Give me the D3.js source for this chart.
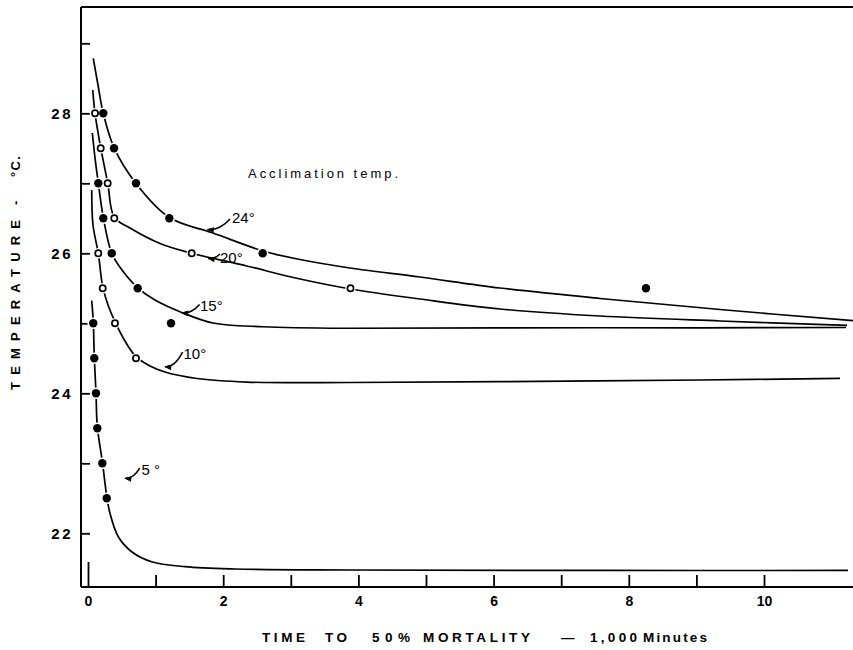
<!DOCTYPE html>
<html><head><meta charset="utf-8">
<script src="https://cdn.jsdelivr.net/npm/d3@7"></script>
<style>body{margin:0;background:#fff}svg{display:block}</style>
</head><body><svg id="c" width="853" height="650"></svg>
<script>
// ---------- data ----------
const xTicks = [0,1,2,3,4,5,6,7,8,9,10];
const xTickLabels = ["0","","2","","4","","6","","8","","10"];
const yTicks = [22,23,24,25,26,27,28,29];
const yTickLabels = ["22","","24","","26","","28",""];
const seriesLabels = ["24°","20°","15°","10°","5 °"];

// observed points [time (1,000 min), temperature °C]
const obs24 = [[0.226,28.0],[0.385,27.5],[0.710,27.0],[1.203,26.5],[2.584,26.0],[8.254,25.5]];
const obs20 = [[0.104,28.0],[0.188,27.5],[0.291,27.0],[0.389,26.5],[1.534,26.0],[3.883,25.5]];
const obs15 = [[0.152,27.0],[0.226,26.5],[0.351,26.0],[0.735,25.5],[1.228,25.0]];
const obs10 = [[0.152,26.0],[0.217,25.5],[0.399,25.0],[0.710,24.5]];
const obs5  = [[0.078,25.0],[0.093,24.5],[0.118,24.0],[0.138,23.5],[0.212,23.0],[0.277,22.5]];

// fitted curves
const fit24 = [[0.078,28.786],[0.148,28.404],[0.226,28.0],[0.385,27.509],[0.710,26.997],[1.203,26.511],[1.849,26.290],[2.589,26.033],[3.136,25.911],[3.876,25.790],[4.911,25.661],[6.095,25.504],[7.574,25.354],[9.349,25.197],[11.317,25.037]];
const fit20 = [[0.070,28.333],[0.104,28.0],[0.188,27.509],[0.291,27.009],[0.389,26.514],[0.621,26.361],[1.065,26.140],[1.534,26.0],[2.348,25.819],[3.087,25.643],[3.883,25.490],[4.911,25.347],[6.095,25.204],[7.574,25.104],[9.349,25.033],[11.228,24.969]];
const fit15 = [[0.064,27.719],[0.104,27.361],[0.152,27.009],[0.226,26.514],[0.351,26.0],[0.503,25.761],[0.732,25.511],[0.991,25.333],[1.361,25.166],[1.849,25.004],[2.589,24.951],[3.876,24.929],[6.095,24.936],[9.053,24.936],[11.213,24.940]];
const fit10 = [[0.055,26.904],[0.074,26.404],[0.152,26.0],[0.217,25.523],[0.296,25.261],[0.399,25.023],[0.547,24.747],[0.710,24.523],[0.917,24.390],[1.139,24.304],[1.612,24.211],[2.352,24.161],[3.876,24.154],[6.095,24.166],[9.053,24.190],[11.124,24.214]];
const fit5  = [[0.055,25.323],[0.078,25.023],[0.093,24.523],[0.118,24.014],[0.138,23.523],[0.212,23.023],[0.277,22.533],[0.325,22.286],[0.448,21.951],[0.646,21.737],[0.942,21.594],[1.435,21.523],[2.175,21.490],[3.876,21.476],[7.574,21.469],[11.243,21.469]];

// ---------- layout ----------
const svg = d3.select("#c");
const x = d3.scaleLinear().domain([0,10]).range([88,764]);
const y = d3.scaleLinear().domain([22,28]).range([533.3,113.3]);
const L = 81, R = 853, T = 7, B = 587;
const FONT = "'Liberation Sans', Arial, sans-serif";

const series = [
  {obs:obs24, fit:fit24, filled:true,  lab:seriesLabels[0], text:[2.130,26.426], tail:[2.100,26.490], tip:[1.768,26.340]},
  {obs:obs20, fit:fit20, filled:false, lab:seriesLabels[1], text:[1.953,25.861], tail:[1.950,25.990], tip:[1.780,25.926]},
  {obs:obs15, fit:fit15, filled:true,  lab:seriesLabels[2], text:[1.657,25.176], tail:[1.650,25.270], tip:[1.386,25.151]},
  {obs:obs10, fit:fit10, filled:false, lab:seriesLabels[3], text:[1.413,24.483], tail:[1.400,24.590], tip:[1.139,24.380]},
  {obs:obs5,  fit:fit5,  filled:true,  lab:seriesLabels[4], text:[0.791,22.833], tail:[0.765,22.930], tip:[0.547,22.786]}
];

// frame
svg.append("line").attr("x1",L).attr("x2",L).attr("y1",T).attr("y2",B).attr("stroke","#000").attr("stroke-width",2);
svg.append("line").attr("x1",L).attr("x2",R).attr("y1",T).attr("y2",T).attr("stroke","#000").attr("stroke-width",1.8);
svg.append("line").attr("x1",L).attr("x2",R).attr("y1",B).attr("y2",B).attr("stroke","#000").attr("stroke-width",2);

// axes
const yAx = svg.append("g").attr("transform",`translate(${L},0)`)
  .call(d3.axisLeft(y).tickValues(yTicks).tickSizeInner(-9).tickSizeOuter(0).tickPadding(8)
    .tickFormat((d,i)=>yTickLabels[i]));
yAx.select(".domain").remove();
yAx.selectAll(".tick line").attr("stroke","#000").attr("stroke-width",1.8);
yAx.selectAll(".tick text").attr("font-family",FONT).attr("font-size",15).attr("font-weight","bold")
  .attr("letter-spacing","2.5px").attr("fill","#000");

const xAx = svg.append("g").attr("transform",`translate(0,${B})`)
  .call(d3.axisBottom(x).tickValues(xTicks).tickSizeInner(-12).tickSizeOuter(0).tickPadding(9)
    .tickFormat((d,i)=>xTickLabels[i]));
xAx.select(".domain").remove();
xAx.selectAll(".tick line").attr("stroke","#000").attr("stroke-width",1.8);
xAx.selectAll(".tick").filter(d=>d===0).select("line").attr("y2",-25);
xAx.selectAll(".tick text").attr("font-family",FONT).attr("font-size",14).attr("font-weight","bold").attr("fill","#000");

// curves
const line = d3.line().x(d=>x(d[0])).y(d=>y(d[1])).curve(d3.curveCatmullRom.alpha(0.5));
svg.append("g").selectAll("path").data(series).join("path")
  .attr("d",d=>line(d.fit)).attr("fill","none").attr("stroke","#000").attr("stroke-width",1.7);

// halos + markers
const allPts = series.flatMap(s=>s.obs.map(p=>({p, filled:s.filled})));
svg.append("g").selectAll("circle").data(allPts).join("circle")
  .attr("cx",d=>x(d.p[0])).attr("cy",d=>y(d.p[1])).attr("r",d=>d.filled?5.8:5.2).attr("fill","#fff");
svg.append("g").selectAll("circle").data(allPts).join("circle")
  .attr("cx",d=>x(d.p[0])).attr("cy",d=>y(d.p[1]))
  .attr("r",d=>d.filled?4.2:3.1)
  .attr("fill",d=>d.filled?"#000":"#fff")
  .attr("stroke","#000").attr("stroke-width",d=>d.filled?0:1.7);

// arrow marker
svg.append("defs").append("marker").attr("id","ah").attr("viewBox","0 0 10 10")
  .attr("refX",9).attr("refY",5).attr("markerWidth",8).attr("markerHeight",7)
  .attr("markerUnits","userSpaceOnUse").attr("orient","auto")
  .append("path").attr("d","M0,1 L10,5 L0,9 Z").attr("fill","#000");

// series labels with arrows
const ann = svg.append("g");
series.forEach(s=>{
  const tx=x(s.tail[0]), ty=y(s.tail[1]), px=x(s.tip[0]), py=y(s.tip[1]);
  const cx=tx-(tx-px)*0.45, cy=py+1;
  ann.append("path").attr("d",`M${tx},${ty} Q${cx},${cy} ${px},${py}`)
    .attr("fill","none").attr("stroke","#000").attr("stroke-width",1.6).attr("marker-end","url(#ah)");
  ann.append("text").attr("x",x(s.text[0])).attr("y",y(s.text[1])).text(s.lab)
    .attr("font-family",FONT).attr("font-size",15).attr("fill","#000");
});

// Acclimation label
svg.append("text").attr("x",248).attr("y",178).text("Acclimation temp.")
  .attr("font-family",FONT).attr("font-size",13).attr("textLength",150).attr("lengthAdjust","spacing").attr("fill","#000");

// x title words
const xw = [["TIME",262,43],["TO",325,22],["50%",372,38],["MORTALITY",423,107],["—",561,14],["1,000",590,47],["Minutes",643,64]];
svg.append("g").selectAll("text").data(xw).join("text")
  .attr("x",d=>d[1]).attr("y",642).text(d=>d[0]).attr("textLength",d=>d[2]).attr("lengthAdjust","spacing")
  .attr("font-family",FONT).attr("font-size",13.5).attr("font-weight","bold").attr("fill","#000");

// y title
const yw = [["TEMPERATURE",390,170],["-",205,6],["°C.",177,21]];
svg.append("g").selectAll("text").data(yw).join("text")
  .attr("transform",d=>`translate(20,${d[1]}) rotate(-90)`).text(d=>d[0])
  .attr("textLength",d=>d[2]).attr("lengthAdjust","spacing")
  .attr("font-family",FONT).attr("font-size",13).attr("font-weight","bold").attr("fill","#000");
</script></body></html>
